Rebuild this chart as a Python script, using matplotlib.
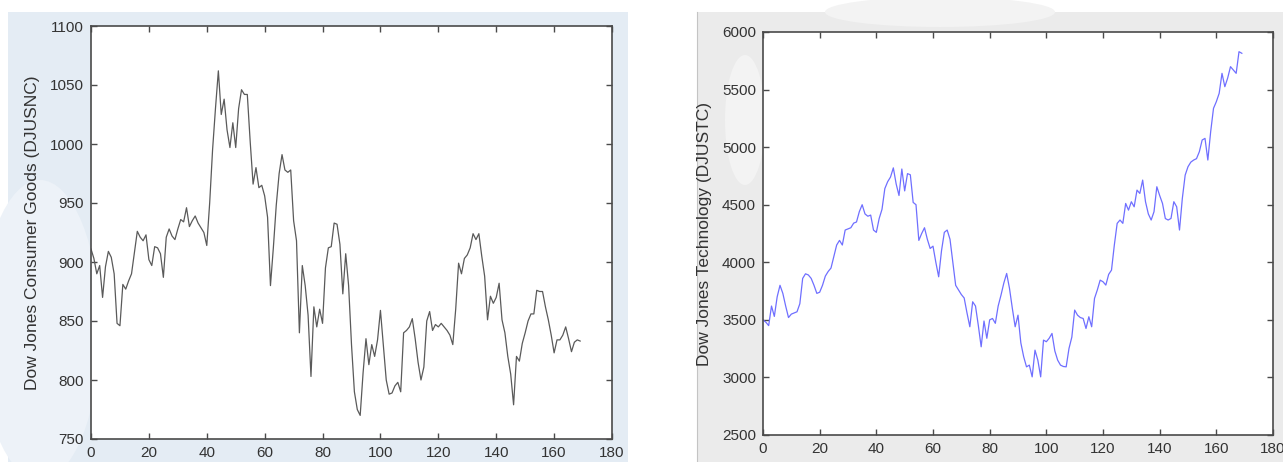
import matplotlib
matplotlib.use("Agg")
import matplotlib.pyplot as plt
from matplotlib.patches import Rectangle, Ellipse

plt.rcParams['font.family'] = ['Liberation Sans', 'DejaVu Sans']

# DJUSNC (Dow Jones Consumer Goods), x = 0..169
djusnc = [911, 903, 890, 897, 870, 896, 909, 904, 890, 848,
          846, 881, 877, 884, 890, 908, 926, 921, 918, 923,
          902, 897, 913, 912, 907, 887, 921, 928, 922, 919,
          928, 936, 934, 946, 930, 935, 939, 933, 929, 925,
          914, 950, 995, 1030, 1062, 1025, 1038, 1012, 997, 1018,
          997, 1030, 1046, 1042, 1042, 1002, 966, 980, 963, 965,
          956, 938, 880, 912, 948, 975, 991, 978, 976, 978,
          935, 918, 840, 897, 880, 855, 803, 862, 845, 860,
          848, 895, 912, 913, 933, 932, 915, 873, 907, 880,
          830, 790, 775, 770, 806, 835, 813, 830, 820, 834,
          859, 830, 800, 788, 789, 795, 798, 790, 840, 842,
          845, 852, 835, 815, 800, 811, 850, 858, 842, 847,
          845, 848, 845, 842, 838, 830, 860, 899, 890, 903,
          906, 912, 924, 919, 924, 905, 888, 851, 871, 865,
          870, 882, 851, 840, 820, 805, 779, 820, 816, 831,
          840, 850, 856, 856, 876, 875, 875, 862, 851, 838,
          823, 834, 834, 838, 845, 835, 824, 832, 834, 833]

# DJUSTC (Dow Jones Technology), x = 0..169
djustc = [3500, 3480, 3450, 3620, 3530, 3700, 3800, 3730, 3620, 3520,
          3550, 3560, 3570, 3640, 3860, 3900, 3890, 3860, 3800, 3730,
          3740, 3800, 3880, 3920, 3950, 4050, 4150, 4190, 4150, 4280,
          4290, 4300, 4340, 4350, 4440, 4500, 4420, 4400, 4410, 4280,
          4260, 4380, 4460, 4640, 4700, 4740, 4820, 4680, 4580, 4810,
          4620, 4770, 4760, 4520, 4500, 4190, 4250, 4300, 4200, 4120,
          4140, 4000, 3874, 4100, 4260, 4280, 4200, 4000, 3800, 3760,
          3720, 3690, 3560, 3440, 3657, 3620, 3450, 3266, 3490, 3340,
          3500, 3512, 3470, 3620, 3715, 3820, 3903, 3773, 3600, 3440,
          3541, 3300, 3180, 3092, 3107, 3005, 3237, 3150, 3005, 3324,
          3310, 3340, 3382, 3230, 3150, 3107, 3095, 3092, 3252, 3350,
          3585, 3541, 3520, 3512, 3425, 3527, 3440, 3686, 3760, 3845,
          3831, 3802, 3895, 3932, 4150, 4338, 4367, 4338, 4511, 4453,
          4526, 4482, 4627, 4598, 4714, 4526, 4420, 4367, 4439, 4656,
          4580, 4511, 4380, 4367, 4381, 4526, 4482, 4280, 4555, 4757,
          4830, 4870, 4888, 4900, 4960, 5062, 5076, 4888, 5134, 5337,
          5395, 5467, 5641, 5525, 5600, 5699, 5670, 5641, 5829, 5815]

x = list(range(len(djusnc)))

xticks = [0, 20, 40, 60, 80, 100, 120, 140, 160, 180]
yticks_left = [750, 800, 850, 900, 950, 1000, 1050, 1100]
yticks_right = [2500, 3000, 3500, 4000, 4500, 5000, 5500, 6000]

W, H = 1283, 462
fig = plt.figure(figsize=(W / 100, H / 100), dpi=100)
fig.patch.set_facecolor('white')

def px(x0, y0, w, h):
    return [x0 / W, 1 - (y0 + h) / H, w / W, h / H]

# background panels (screenshot backgrounds)
bg = fig.add_axes([0, 0, 1, 1], zorder=-10)
bg.set_xlim(0, W)
bg.set_ylim(H, 0)
bg.axis('off')
bg.add_patch(Rectangle((8, 12), 620, 460, facecolor='#e4ecf4', edgecolor='none'))
bg.add_patch(Ellipse((40, 330), 120, 300, facecolor='#edf2f8', edgecolor='none'))
bg.add_patch(Rectangle((697, 12), 600, 460, facecolor='#ebebeb', edgecolor='none'))
bg.add_patch(Ellipse((940, 12), 230, 30, facecolor='#f3f3f3', edgecolor='none'))
bg.add_patch(Ellipse((745, 120), 40, 130, facecolor='#f3f3f3', edgecolor='none'))
bg.plot([697, 697], [12, 462], color='#c4c4c4', lw=0.8)

tick_color = '#333333'
spine_color = '#4a4a4a'

def style(ax):
    ax.set_facecolor('white')
    for s in ax.spines.values():
        s.set_color(spine_color)
        s.set_linewidth(1.2)
    ax.tick_params(direction='in', top=True, right=True, length=4, width=1,
                   color=spine_color, labelsize=11, labelcolor=tick_color, pad=5)

ax1 = fig.add_axes(px(91, 26, 521, 413))
ax1.plot(x, djusnc, color='#5a5a5a', lw=0.9)
ax1.set_xlim(0, 180)
ax1.set_ylim(750, 1100)
ax1.set_xticks(xticks)
ax1.set_yticks(yticks_left)
ax1.set_ylabel('Dow Jones Consumer Goods (DJUSNC)', fontsize=12.5, color=tick_color, labelpad=7)
style(ax1)

ax2 = fig.add_axes(px(763, 32, 510, 403))
ax2.plot(x, djustc, color='#6f6fff', lw=0.9)
ax2.set_xlim(0, 180)
ax2.set_ylim(2500, 6000)
ax2.set_xticks(xticks)
ax2.set_yticks(yticks_right)
ax2.set_ylabel('Dow Jones Technology (DJUSTC)', fontsize=12.5, color=tick_color, labelpad=7)
style(ax2)

fig.savefig('out.png', dpi=100)
